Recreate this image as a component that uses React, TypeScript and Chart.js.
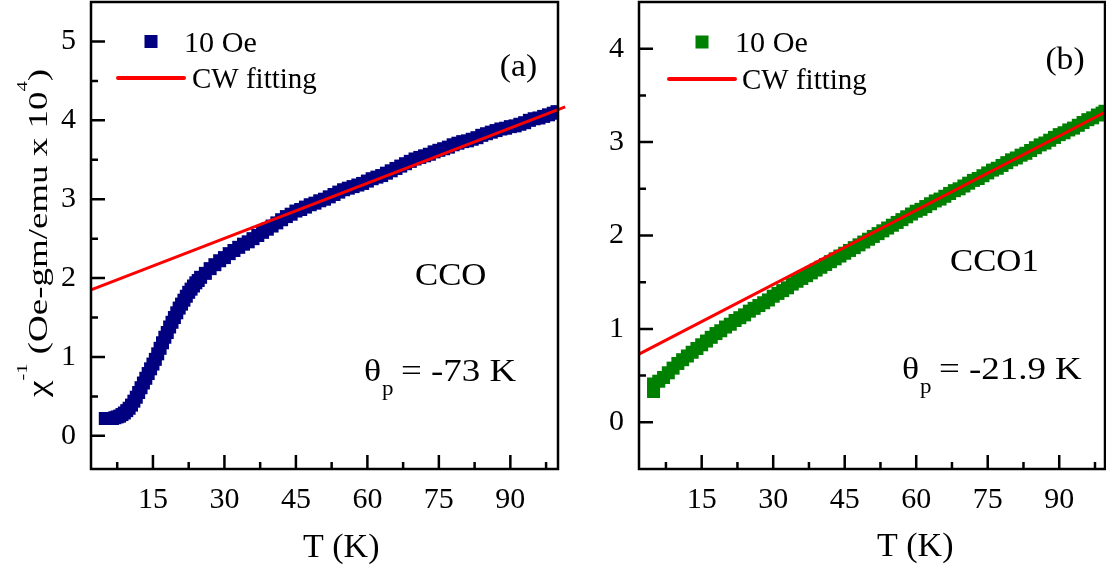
import React, { useEffect, useRef } from "react";
import { Chart, registerables } from "chart.js";

Chart.register(...registerables);

const FONT = '"Liberation Serif", "Times New Roman", Times, serif';

// ---------- Panel (a): CCO, 10 Oe ----------
const ccoT = [
  5, 5.5, 6, 6.5, 7, 7.5, 8, 8.5, 9, 9.5, 10, 10.5, 11, 11.5, 12, 12.5, 13, 13.5, 14, 14.5,
  15, 15.5, 16, 16.5, 17, 17.5, 18, 18.5, 19, 19.5, 20, 20.5, 21, 21.5, 22, 22.5, 23, 23.5,
  24, 24.5, 25, 26, 27, 28, 29, 30, 31, 32, 33, 34, 35, 36, 37, 38, 39, 40, 41, 42, 43, 44,
  45, 46, 47, 48, 49, 50, 51, 52, 53, 54, 55, 56, 57, 58, 59, 60, 61, 62, 63, 64, 65, 66,
  67, 68, 69, 70, 71, 72, 73, 74, 75, 76, 77, 78, 79, 80, 81, 82, 83, 84, 85, 86, 87, 88,
  89, 90, 91, 92, 93, 94, 95, 96, 97, 98, 99, 99.8,
];
const ccoChiInv = [
  0.22, 0.22, 0.22, 0.22, 0.23, 0.24, 0.25, 0.27, 0.29, 0.32, 0.35, 0.39, 0.44, 0.49, 0.55, 0.61, 0.67, 0.73, 0.79, 0.85,
  0.91, 0.97, 1.04, 1.11, 1.18, 1.25, 1.31, 1.38, 1.44, 1.50, 1.56, 1.62, 1.67, 1.72, 1.77, 1.82, 1.86, 1.90,
  1.94, 1.97, 2.01, 2.06, 2.12, 2.17, 2.22, 2.26, 2.31, 2.35, 2.39, 2.43, 2.46, 2.50, 2.54, 2.58, 2.62, 2.66, 2.70, 2.74, 2.78, 2.81,
  2.85, 2.87, 2.90, 2.93, 2.95, 2.98, 3.00, 3.03, 3.06, 3.09, 3.12, 3.14, 3.16, 3.18, 3.20, 3.23, 3.26, 3.28, 3.30, 3.33, 3.36, 3.39,
  3.42, 3.45, 3.48, 3.51, 3.53, 3.55, 3.57, 3.60, 3.62, 3.64, 3.66, 3.69, 3.71, 3.73, 3.74, 3.76, 3.78, 3.81, 3.83, 3.85, 3.87, 3.89,
  3.90, 3.92, 3.93, 3.95, 3.97, 4.00, 4.02, 4.03, 4.05, 4.07, 4.09, 4.11,
];
const ccoFitT = [2.0, 101.5];
const ccoFitChiInv = [1.85, 4.17];

// ---------- Panel (b): CCO1, 10 Oe ----------
const cco1T = [
  4.9, 4.9, 4.9, 6, 7, 8, 9, 10, 11, 12, 13, 14, 15, 16, 17, 18, 19, 20, 21, 22, 23, 24, 25,
  26, 27, 28, 29, 30, 31, 32, 33, 34, 35, 36, 37, 38, 39, 40, 41, 42, 43, 44, 45, 46, 47, 48,
  49, 50, 51, 52, 53, 54, 55, 56, 57, 58, 59, 60, 61, 62, 63, 64, 65, 66, 67, 68, 69, 70, 71,
  72, 73, 74, 75, 76, 77, 78, 79, 80, 81, 82, 83, 84, 85, 86, 87, 88, 89, 90, 91, 92, 93, 94,
  95, 96, 97, 98, 99, 99.6,
];
const cco1ChiInv = [
  0.33, 0.37, 0.41, 0.44, 0.48, 0.53, 0.58, 0.63, 0.67, 0.71, 0.75, 0.79, 0.83, 0.87, 0.91, 0.95, 0.98, 1.02, 1.05, 1.09, 1.12, 1.15, 1.19,
  1.22, 1.25, 1.28, 1.31, 1.35, 1.38, 1.41, 1.44, 1.48, 1.51, 1.54, 1.57, 1.60, 1.63, 1.66, 1.69, 1.72, 1.75, 1.78, 1.81, 1.84, 1.87, 1.90,
  1.93, 1.96, 1.99, 2.02, 2.05, 2.08, 2.11, 2.14, 2.17, 2.20, 2.23, 2.26, 2.28, 2.31, 2.34, 2.37, 2.39, 2.42, 2.45, 2.48, 2.50, 2.53, 2.56,
  2.59, 2.61, 2.64, 2.67, 2.70, 2.72, 2.75, 2.78, 2.81, 2.83, 2.86, 2.88, 2.91, 2.94, 2.97, 2.99, 3.02, 3.05, 3.08, 3.10, 3.13, 3.15, 3.18,
  3.21, 3.24, 3.26, 3.29, 3.31, 3.33,
];
const cco1FitT = [1.85, 99.6];
const cco1FitChiInv = [0.73, 3.32];

// ---------- Ticks ----------
const xMajorTicks = [15, 30, 45, 60, 75, 90];
const xMinorTicks = [7.5, 22.5, 37.5, 52.5, 67.5, 82.5, 97.5];
const yMajorTicksA = [0, 1, 2, 3, 4, 5];
const yMinorTicksA = [0.5, 1.5, 2.5, 3.5, 4.5];
const yMajorTicksB = [0, 1, 2, 3, 4];
const yMinorTicksB = [0.5, 1.5, 2.5, 3.5];

const NAVY = "#000080";
const GREEN = "#008000";
const RED = "#ff0000";

type TextItem = { text: string; x: number; y: number; size: number; sx?: number; align?: string };

function drawText(ctx: CanvasRenderingContext2D, it: TextItem, ox: number) {
  ctx.save();
  ctx.font = `${it.size}px ${FONT}`;
  ctx.fillStyle = "#000";
  ctx.textBaseline = "alphabetic";
  ctx.textAlign = "left";
  const sx = it.sx ?? 1;
  const w = ctx.measureText(it.text).width * sx;
  let x0 = it.x - ox;
  if (it.align === "center") x0 -= w / 2;
  else if (it.align === "right") x0 -= w;
  ctx.translate(x0, it.y);
  ctx.scale(sx, 1);
  ctx.fillText(it.text, 0, 0);
  ctx.restore();
}

const decorPlugin = {
  id: "panelDecor",
  afterDatasetsDraw(chart: any, _args: any, opts: any) {
    const ctx: CanvasRenderingContext2D = chart.ctx;
    const { left, right, top, bottom } = chart.chartArea;
    const xs = chart.scales.x;
    const ys = chart.scales.y;
    const ox = opts.ox;
    ctx.save();
    ctx.strokeStyle = "#000";
    ctx.lineWidth = 2.5;
    ctx.strokeRect(left, top, right - left, bottom - top);
    ctx.beginPath();
    for (const v of opts.xMajor) {
      const p = xs.getPixelForValue(v);
      ctx.moveTo(p, bottom);
      ctx.lineTo(p, bottom - 14);
    }
    for (const v of opts.xMinor) {
      const p = xs.getPixelForValue(v);
      ctx.moveTo(p, bottom);
      ctx.lineTo(p, bottom - 7);
    }
    for (const v of opts.yMajor) {
      const p = ys.getPixelForValue(v);
      ctx.moveTo(left, p);
      ctx.lineTo(left + 14, p);
    }
    for (const v of opts.yMinor) {
      const p = ys.getPixelForValue(v);
      ctx.moveTo(left, p);
      ctx.lineTo(left + 7, p);
    }
    ctx.stroke();

    const lg = opts.legend;
    ctx.fillStyle = lg.color;
    ctx.fillRect(lg.mx - ox - 6.5, lg.my - 6.5, 13, 13);
    ctx.strokeStyle = RED;
    ctx.lineWidth = 4;
    ctx.lineCap = "round";
    ctx.beginPath();
    ctx.moveTo(lg.lx1 - ox, lg.ly);
    ctx.lineTo(lg.lx2 - ox, lg.ly);
    ctx.stroke();

    for (const it of opts.texts) drawText(ctx, it, ox);

    if (opts.yTitle) {
      const yt = opts.yTitle;
      let total = 0;
      for (const pc of yt.pieces) {
        ctx.font = `${pc.size}px ${FONT}`;
        total += ctx.measureText(pc.t).width;
      }
      const s = yt.length / total;
      ctx.save();
      ctx.translate(yt.x - ox, yt.y);
      ctx.rotate(-Math.PI / 2);
      ctx.scale(s, 1);
      ctx.fillStyle = "#000";
      ctx.textBaseline = "alphabetic";
      ctx.textAlign = "left";
      let cx = 0;
      for (const pc of yt.pieces) {
        ctx.font = `${pc.size}px ${FONT}`;
        ctx.fillText(pc.t, cx, -pc.rise);
        cx += ctx.measureText(pc.t).width;
      }
      ctx.restore();
    }
    ctx.restore();
  },
};

function zeroPad(s: any) {
  s.paddingTop = 0;
  s.paddingBottom = 0;
  s.paddingLeft = 0;
  s.paddingRight = 0;
}

function buildConfig(p: any) {
  return {
    type: "scatter",
    data: {
      datasets: [
        {
          label: "CW fitting",
          data: p.fitT.map((t: number, i: number) => ({ x: t, y: p.fitY[i] })),
          showLine: true,
          borderColor: RED,
          borderWidth: 3,
          pointRadius: 0,
          clip: false,
          order: 0,
        },
        {
          label: "10 Oe",
          data: p.T.map((t: number, i: number) => ({ x: t, y: p.Y[i] })),
          showLine: false,
          pointStyle: "rect",
          pointRadius: 9.2,
          backgroundColor: p.color,
          borderColor: p.color,
          borderWidth: 0,
          clip: 0,
          order: 1,
        },
      ],
    },
    options: {
      animation: false,
      responsive: false,
      maintainAspectRatio: false,
      events: [],
      layout: { autoPadding: false, padding: { left: 0, right: p.padRight, top: 2, bottom: 0 } },
      plugins: {
        legend: { display: false },
        tooltip: { enabled: false },
        panelDecor: p.decor,
      },
      scales: {
        x: {
          type: "linear",
          min: p.xMin,
          max: p.xMax,
          afterBuildTicks: (s: any) => {
            s.ticks = xMajorTicks.map((v) => ({ value: v }));
          },
          afterFit: (s: any) => {
            s.height = 102;
            zeroPad(s);
          },
          grid: { display: false, drawTicks: false },
          border: { display: false },
          ticks: {
            font: { family: FONT, size: 30 },
            color: "#000",
            padding: 13,
            maxRotation: 0,
            autoSkip: false,
            callback: (v: number) => String(v),
          },
        },
        y: {
          type: "linear",
          min: p.yMin,
          max: p.yMax,
          afterBuildTicks: (s: any) => {
            s.ticks = p.yMajor.map((v: number) => ({ value: v }));
          },
          afterFit: (s: any) => {
            s.width = p.yWidth;
            zeroPad(s);
          },
          grid: { display: false, drawTicks: false },
          border: { display: false },
          ticks: {
            font: { family: FONT, size: 30 },
            color: "#000",
            padding: 15,
            autoSkip: false,
            callback: (v: number) => String(v),
          },
        },
      },
    },
    plugins: [decorPlugin],
  } as any;
}

const cfgA = buildConfig({
  T: ccoT,
  Y: ccoChiInv,
  fitT: ccoFitT,
  fitY: ccoFitChiInv,
  color: NAVY,
  xMin: 2,
  xMax: 100,
  yMin: -0.42,
  yMax: 5.5,
  yMajor: yMajorTicksA,
  yWidth: 91,
  padRight: 22,
  decor: {
    ox: 0,
    xMajor: xMajorTicks,
    xMinor: xMinorTicks,
    yMajor: yMajorTicksA,
    yMinor: yMinorTicksA,
    legend: { color: NAVY, mx: 151, my: 41.5, lx1: 118, lx2: 184, ly: 78 },
    texts: [
      { text: "10 Oe", x: 184, y: 52, size: 29, sx: 1.04 },
      { text: "CW fitting", x: 192, y: 88, size: 29, sx: 1.0 },
      { text: "(a)", x: 518.5, y: 76, size: 32, sx: 1.05, align: "center" },
      { text: "CCO", x: 415, y: 285, size: 31, sx: 1.12 },
      { text: "θ", x: 364, y: 381, size: 31, sx: 1.15 },
      { text: "p", x: 382, y: 395, size: 20, sx: 1.15 },
      { text: "= -73 K", x: 401, y: 381, size: 31, sx: 1.19 },
      { text: "T (K)", x: 303, y: 557, size: 34, sx: 1.0 },
    ],
    yTitle: {
      x: 47,
      y: 397,
      length: 328,
      pieces: [
        { t: "χ", size: 27, rise: 0 },
        { t: "-1", size: 15, rise: 20 },
        { t: " (Oe-gm/emu x 10", size: 27, rise: 0 },
        { t: "4", size: 15, rise: 20 },
        { t: ")", size: 27, rise: 0 },
      ],
    },
  },
});

const cfgB = buildConfig({
  T: cco1T,
  Y: cco1ChiInv,
  fitT: cco1FitT,
  fitY: cco1FitChiInv,
  color: GREEN,
  xMin: 1.85,
  xMax: 99.6,
  yMin: -0.5,
  yMax: 4.5,
  yMajor: yMajorTicksB,
  yWidth: 59,
  padRight: 1,
  decor: {
    ox: 580,
    xMajor: xMajorTicks,
    xMinor: xMinorTicks,
    yMajor: yMajorTicksB,
    yMinor: yMinorTicksB,
    legend: { color: GREEN, mx: 702, my: 42, lx1: 669, lx2: 735, ly: 79 },
    texts: [
      { text: "10 Oe", x: 735, y: 52, size: 29, sx: 1.04 },
      { text: "CW fitting", x: 742, y: 89, size: 29, sx: 1.0 },
      { text: "(b)", x: 1065, y: 69, size: 32, sx: 1.05, align: "center" },
      { text: "CCO1", x: 950, y: 271, size: 31, sx: 1.12 },
      { text: "θ", x: 902, y: 379, size: 31, sx: 1.15 },
      { text: "p", x: 920, y: 393, size: 20, sx: 1.15 },
      { text: "= -21.9 K", x: 939, y: 379, size: 31, sx: 1.19 },
      { text: "T (K)", x: 877, y: 556, size: 34, sx: 1.0 },
    ],
    yTitle: null,
  },
});

export default function App() {
  const refA = useRef<HTMLCanvasElement>(null);
  const refB = useRef<HTMLCanvasElement>(null);
  useEffect(() => {
    const a = new Chart(refA.current as HTMLCanvasElement, cfgA);
    const b = new Chart(refB.current as HTMLCanvasElement, cfgB);
    return () => {
      a.destroy();
      b.destroy();
    };
  }, []);
  return (
    <div
      style={{
        position: "absolute",
        left: 0,
        top: 0,
        width: 1106,
        height: 571,
        background: "#fff",
        overflow: "hidden",
      }}
    >
      <canvas
        ref={refA}
        width={580}
        height={571}
        style={{ position: "absolute", left: 0, top: 0, width: 580, height: 571 }}
      />
      <canvas
        ref={refB}
        width={526}
        height={571}
        style={{ position: "absolute", left: 580, top: 0, width: 526, height: 571 }}
      />
    </div>
  );
}
